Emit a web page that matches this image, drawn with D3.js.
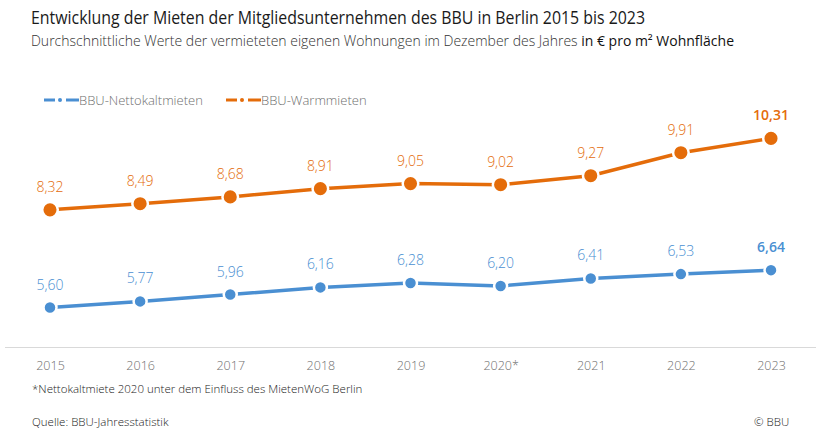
<!DOCTYPE html>
<html><head><meta charset="utf-8">
<script src="https://cdn.jsdelivr.net/npm/d3@7"></script>
<style>body{margin:0;background:#fff;} svg{display:block;font-family:"Open Sans",sans-serif;}</style>
</head><body>
<svg id="c" width="826" height="431"></svg>
<script>
const years = ["2015","2016","2017","2018","2019","2020*","2021","2022","2023"];
const netto = [5.60,5.77,5.96,6.16,6.28,6.20,6.41,6.53,6.64];
const warm = [8.32,8.49,8.68,8.91,9.05,9.02,9.27,9.91,10.31];
const seriesNames = ["BBU-Nettokaltmieten","BBU-Warmmieten"];
const colors = {blue:"#4a8fd2", orange:"#e46c0a"};
const font = '"Open Sans",sans-serif';

const svg = d3.select("#c");
const x = d3.scalePoint().domain(years).range([50,771]);
const y = d3.scaleLinear().domain([4.5,11]).range([347,113.6]);

// title
svg.append("text").attr("x",31).attr("y",24).attr("font-family",font).attr("font-size",18.5).attr("fill","#1a1a1a")
  .attr("textLength",614).attr("lengthAdjust","spacingAndGlyphs")
  .text("Entwicklung der Mieten der Mitgliedsunternehmen des BBU in Berlin 2015 bis 2023");
const sub = svg.append("text").attr("x",31).attr("y",46).attr("font-family",font).attr("font-size",14).attr("fill","#333")
  .attr("textLength",703).attr("lengthAdjust","spacingAndGlyphs");
sub.append("tspan").attr("font-weight",300).text("Durchschnittliche Werte der vermieteten eigenen Wohnungen im Dezember des Jahres ");
sub.append("tspan").attr("fill","#111").text("in € pro m² Wohnfläche");

// axis line
svg.append("line").attr("x1",5).attr("x2",816).attr("y1",347.5).attr("y2",347.5).attr("stroke","#d9d9d9").attr("stroke-width",1);
const ax = d3.axisBottom(x).tickSize(0).tickPadding(0);
const axg = svg.append("g").attr("transform","translate(0,347)").call(ax);
axg.select(".domain").remove();
axg.selectAll("text").attr("font-family",font).attr("font-size",12.5).attr("font-weight",300).attr("fill","#6f6f6f").attr("dy",0).attr("y",23);

// legend
const leg = [{name:seriesNames[0],c:colors.blue,x:44},{name:seriesNames[1],c:colors.orange,x:226}];
leg.forEach(l=>{
  const g = svg.append("g");
  g.append("line").attr("x1",l.x).attr("x2",l.x+11).attr("y1",100).attr("y2",100).attr("stroke",l.c).attr("stroke-width",3);
  g.append("circle").attr("cx",l.x+16).attr("cy",100).attr("r",2).attr("fill",l.c);
  g.append("line").attr("x1",l.x+22).attr("x2",l.x+35).attr("y1",100).attr("y2",100).attr("stroke",l.c).attr("stroke-width",3);
  g.append("text").attr("x",l.x+35).attr("y",105).attr("font-family",font).attr("font-size",13).attr("font-weight",300).attr("fill","#6f6f6f").text(l.name);
});

function drawSeries(vals,c,r){
  const line = d3.line().x((d,i)=>x(years[i])).y(d=>y(d));
  svg.append("path").datum(vals).attr("d",line).attr("fill","none").attr("stroke",c).attr("stroke-width",3.5);
  svg.selectAll(null).data(vals).enter().append("circle")
    .attr("cx",(d,i)=>x(years[i])).attr("cy",d=>y(d)).attr("r",r)
    .attr("fill",c).attr("stroke","#fff").attr("stroke-width",2.5);
  svg.selectAll(null).data(vals).enter().append("text")
    .attr("x",(d,i)=>x(years[i])).attr("y",d=>y(d)-18).attr("text-anchor","middle")
    .attr("font-family",font).attr("font-size",14).attr("fill",c)
    .attr("font-weight",(d,i)=>i===vals.length-1?600:300)
    .text(d=>d3.format(".2f")(d).replace(".",","));
}
drawSeries(warm,colors.orange,7.8);
drawSeries(netto,colors.blue,6.5);

// footnotes
svg.append("text").attr("x",32).attr("y",393).attr("font-family",font).attr("font-size",11.5).attr("fill","#222").attr("font-weight",300)
  .text("*Nettokaltmiete 2020 unter dem Einfluss des MietenWoG Berlin");
svg.append("text").attr("x",32).attr("y",426).attr("font-family",font).attr("font-size",11.5).attr("fill","#222").attr("font-weight",300)
  .text("Quelle: BBU-Jahresstatistik");
svg.append("text").attr("x",754).attr("y",426).attr("font-family",font).attr("font-size",11.5).attr("fill","#222").attr("font-weight",300)
  .text("© BBU");
</script>
</body></html>
